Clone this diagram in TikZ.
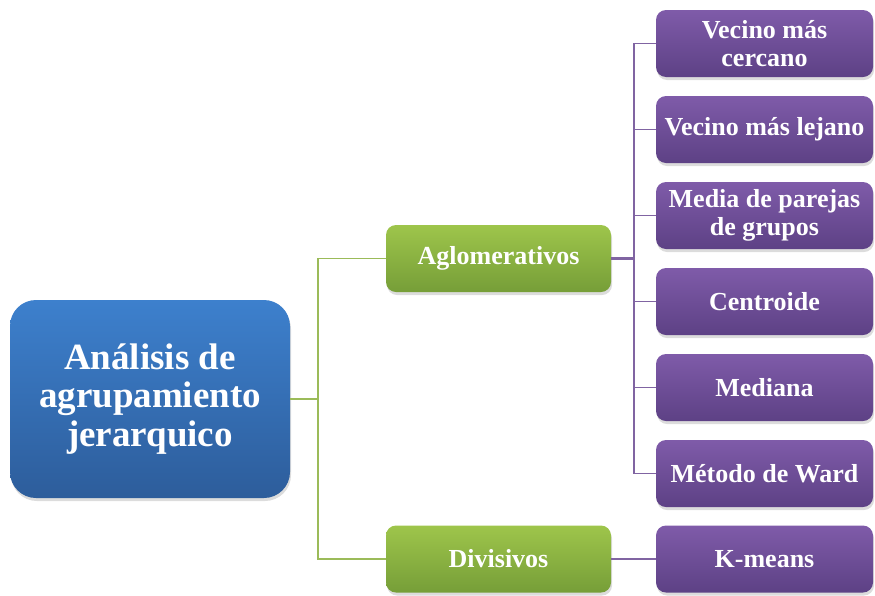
\documentclass[tikz,border=0pt]{standalone}
\usepackage{fontspec}
\setmainfont{Liberation Serif}
\usetikzlibrary{shadows}
\definecolor{bluetop}{HTML}{3D80CD}
\definecolor{bluebot}{HTML}{2D5D9B}
\definecolor{greentop}{HTML}{9EC54B}
\definecolor{greenbot}{HTML}{769E38}
\definecolor{purptop}{HTML}{7F5BA9}
\definecolor{purpbot}{HTML}{5D4185}
\definecolor{gline}{HTML}{9BBB59}
\definecolor{pline}{HTML}{8064A2}
\begin{document}
\begin{tikzpicture}[x=1pt,y=-1pt,
  basebox/.style={align=center, text=white, inner sep=2pt,
    drop shadow={shadow xshift=1pt,shadow yshift=-3pt,opacity=0.28}},
  rootbox/.style={basebox, rounded corners=26pt, minimum width=280pt, minimum height=198pt,
    top color=bluetop, bottom color=bluebot,
    font=\bfseries\fontsize{37}{38.5}\selectfont},
  greenbox/.style={basebox, rounded corners=10pt, minimum width=225pt, minimum height=67pt,
    top color=greentop, bottom color=greenbot,
    font=\bfseries\fontsize{26}{28}\selectfont},
  purpbox/.style={basebox, rounded corners=10pt, minimum width=217pt, minimum height=67pt,
    top color=purptop, bottom color=purpbot,
    font=\bfseries\fontsize{26}{28}\selectfont},
  gconn/.style={draw=gline, line width=1.8pt},
  pconn/.style={draw=pline, line width=1.8pt},
  pthick/.style={draw=pline, line width=3.5pt}]
\useasboundingbox (0,0) rectangle (875,595);
\node[rootbox] (root) at (150,399) {Análisis de\\agrupamiento\\jerarquico};
\node[greenbox] (agl) at (498.5,258.5) {Aglomerativos};
\node[greenbox] (div) at (498.5,559) {Divisivos};
\node[purpbox] (p1) at (764.5,43.5) {Vecino más\\cercano};
\node[purpbox] (p2) at (764.5,129.5) {Vecino más lejano};
\node[purpbox] (p3) at (764.5,215.5) {Media de parejas\\de grupos};
\node[purpbox] (p4) at (764.5,301.5) {Centroide};
\node[purpbox] (p5) at (764.5,387.5) {Mediana};
\node[purpbox] (p6) at (764.5,473.5) {Método de Ward};
\node[purpbox] (km) at (764.5,559) {K-means};
\coordinate (gj) at (318,399);
\coordinate (pj) at (634,258.5);
\draw[gconn] (root.east) -- (gj) |- (agl.west);
\draw[gconn] (gj) |- (div.west);
\foreach \n in {p1,p2,p3,p4,p5,p6}{\draw[pconn] (pj) |- (\n.west);}
\draw[pthick] (agl.east) -- (pj);
\draw[pconn] (div.east) -- (km.west);
\end{tikzpicture}
\end{document}
